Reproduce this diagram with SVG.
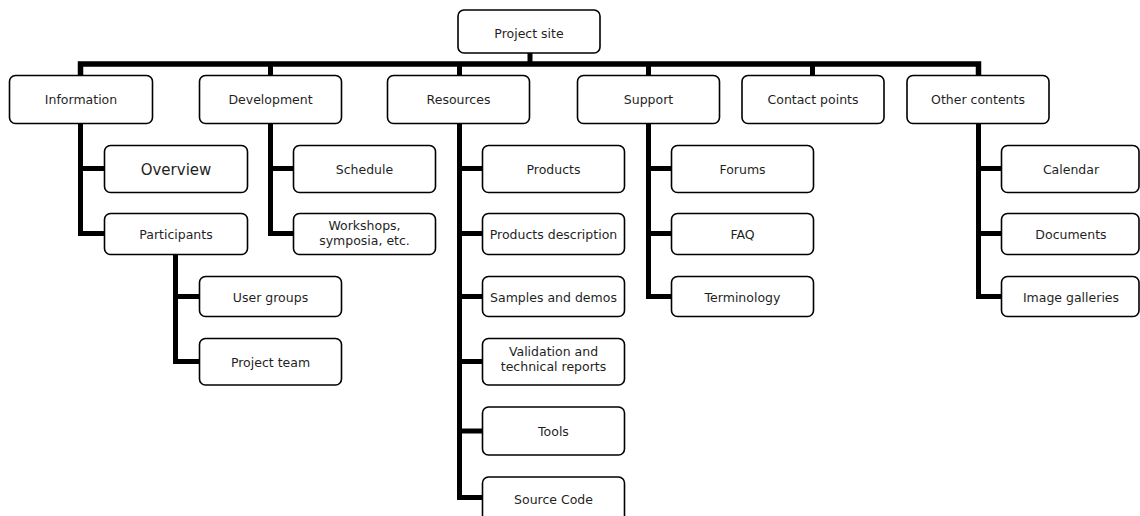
<svg xmlns="http://www.w3.org/2000/svg" width="1140" height="516" viewBox="0 0 1140 516">
<style>
.n rect{fill:#fff;stroke:#000;stroke-width:1.6}
.n text{font-family:"DejaVu Sans","Verdana",sans-serif;font-size:12.5px;fill:#1f1f1f;text-anchor:middle;dominant-baseline:central}
.c path{fill:none;stroke:#000;stroke-width:5;stroke-linejoin:miter;stroke-linecap:butt}
</style>
<rect width="1140" height="516" fill="#fff"/>
<g id="connectors" class="c">
<path d="M530 53V64"/>
<path d="M80.5 75V64H978.5V75" style="stroke-width:5.5"/>
<path d="M270.5 64V75M459.5 64V75M648.5 64V75M812.5 64V75"/>
<path d="M80.5 123V233.5H104M80.5 168.5H104"/>
<path d="M175.5 254V361.5H199M175.5 296.5H199"/>
<path d="M270.5 123V233.5H293M270.5 168.5H293"/>
<path d="M459.5 123V497.5H482M459.5 168.5H482M459.5 233.5H482M459.5 296.5H482M459.5 361.5H482M459.5 431H482"/>
<path d="M648.5 123V296.5H671M648.5 168.5H671M648.5 233.5H671"/>
<path d="M978.5 123V296.5H1001M978.5 168.5H1001M978.5 233.5H1001"/>
</g>
<g id="project-site" class="n"><rect x="458" y="10" width="142" height="43" rx="6"/><text x="529" y="33">Project site</text></g>
<g id="information" class="n"><rect x="9.5" y="75.5" width="143" height="48" rx="6"/><text x="81" y="99">Information</text></g>
<g id="development" class="n"><rect x="199.5" y="75.5" width="142" height="48" rx="6"/><text x="270.5" y="99">Development</text></g>
<g id="resources" class="n"><rect x="387.5" y="75.5" width="142" height="48" rx="6"/><text x="458.5" y="99">Resources</text></g>
<g id="support" class="n"><rect x="577.5" y="75.5" width="142" height="48" rx="6"/><text x="648.5" y="99">Support</text></g>
<g id="contact-points" class="n"><rect x="742" y="75.5" width="142" height="48" rx="6"/><text x="813" y="99">Contact points</text></g>
<g id="other-contents" class="n"><rect x="907" y="75.5" width="142" height="48" rx="6"/><text x="978" y="99">Other contents</text></g>
<g id="overview" class="n"><rect x="104.5" y="145.5" width="143" height="47" rx="6"/><text x="176" y="170" style="font-size:15px">Overview</text></g>
<g id="participants" class="n"><rect x="104.5" y="213.5" width="143" height="41" rx="6"/><text x="176" y="234">Participants</text></g>
<g id="user-groups" class="n"><rect x="199.5" y="276.5" width="142" height="40" rx="6"/><text x="270.5" y="297">User groups</text></g>
<g id="project-team" class="n"><rect x="199.5" y="338.5" width="142" height="46.5" rx="6"/><text x="270.5" y="362">Project team</text></g>
<g id="schedule" class="n"><rect x="293.5" y="145.5" width="142" height="47" rx="6"/><text x="364.5" y="169">Schedule</text></g>
<g id="workshops" class="n"><rect x="293.5" y="213.5" width="142" height="41" rx="6"/><text x="364.5" y="225">Workshops,</text><text x="364.5" y="240.5">symposia, etc.</text></g>
<g id="products" class="n"><rect x="482.5" y="145.5" width="142" height="47" rx="6"/><text x="553.5" y="169">Products</text></g>
<g id="products-description" class="n"><rect x="482.5" y="213.5" width="142" height="41" rx="6"/><text x="553.5" y="234">Products description</text></g>
<g id="samples-demos" class="n"><rect x="482.5" y="276.5" width="142" height="40" rx="6"/><text x="553.5" y="297">Samples and demos</text></g>
<g id="validation" class="n"><rect x="482.5" y="338.5" width="142" height="46.5" rx="6"/><text x="553.5" y="351">Validation and</text><text x="553.5" y="366">technical reports</text></g>
<g id="tools" class="n"><rect x="482.5" y="407" width="142" height="48" rx="6"/><text x="553.5" y="431">Tools</text></g>
<g id="source-code" class="n"><rect x="482.5" y="477" width="142" height="48" rx="6"/><text x="553.5" y="499">Source Code</text></g>
<g id="forums" class="n"><rect x="671.5" y="145.5" width="142" height="47" rx="6"/><text x="742.5" y="169">Forums</text></g>
<g id="faq" class="n"><rect x="671.5" y="213.5" width="142" height="41" rx="6"/><text x="742.5" y="234">FAQ</text></g>
<g id="terminology" class="n"><rect x="671.5" y="276.5" width="142" height="40" rx="6"/><text x="742.5" y="297">Terminology</text></g>
<g id="calendar" class="n"><rect x="1001.5" y="145.5" width="137.5" height="47" rx="6"/><text x="1071" y="169">Calendar</text></g>
<g id="documents" class="n"><rect x="1001.5" y="213.5" width="137.5" height="41" rx="6"/><text x="1071" y="234">Documents</text></g>
<g id="image-galleries" class="n"><rect x="1001.5" y="276.5" width="137.5" height="40" rx="6"/><text x="1071" y="297">Image galleries</text></g>
</svg>
